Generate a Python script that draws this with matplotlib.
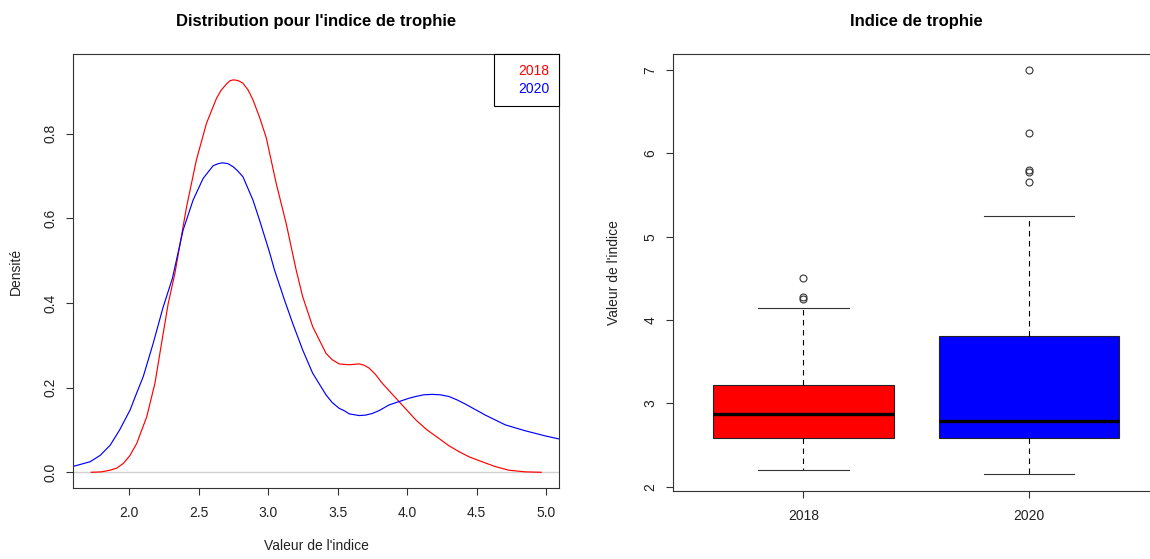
"""Indice de trophie 2018 vs 2020: density curves (left) and boxplots (right),
drawn in the look of R base graphics.

    python plot.py
"""
import matplotlib

matplotlib.use("Agg")
import matplotlib.pyplot as plt
from matplotlib.lines import Line2D

plt.rcParams["font.family"] = ["Liberation Sans", "DejaVu Sans"]

# density estimates
dens_2018_x = [1.725, 1.800, 1.862, 1.910, 1.957, 2.005, 2.053, 2.125, 2.184, 2.232,
               2.280, 2.328, 2.412, 2.483, 2.555, 2.627, 2.660, 2.699, 2.725, 2.751,
               2.785, 2.818, 2.855, 2.890, 2.938, 2.986, 3.057, 3.129, 3.201, 3.248,
               3.320, 3.416, 3.460, 3.511, 3.540, 3.583, 3.655, 3.690, 3.727, 3.770,
               3.822, 3.942, 4.062, 4.140, 4.229, 4.300, 4.372, 4.450, 4.539, 4.630,
               4.731, 4.850, 4.966]
dens_2018_y = [0.000, 0.001, 0.005, 0.010, 0.021, 0.040, 0.068, 0.131, 0.210, 0.305,
               0.399, 0.470, 0.627, 0.738, 0.824, 0.883, 0.902, 0.917, 0.925, 0.927,
               0.925, 0.919, 0.903, 0.880, 0.838, 0.790, 0.683, 0.588, 0.478, 0.415,
               0.344, 0.281, 0.266, 0.256, 0.255, 0.254, 0.256, 0.253, 0.246, 0.232,
               0.210, 0.167, 0.124, 0.101, 0.080, 0.063, 0.049, 0.036, 0.025, 0.014,
               0.005, 0.001, 0.000]

dens_2020_x = [1.575, 1.718, 1.790, 1.862, 1.930, 2.005, 2.050, 2.100, 2.172, 2.244,
               2.310, 2.387, 2.459, 2.531, 2.603, 2.640, 2.670, 2.710, 2.746, 2.780,
               2.818, 2.890, 2.938, 3.009, 3.045, 3.117, 3.176, 3.248, 3.320, 3.416,
               3.460, 3.511, 3.550, 3.583, 3.655, 3.700, 3.750, 3.800, 3.870, 3.942,
               4.014, 4.062, 4.120, 4.181, 4.240, 4.301, 4.360, 4.420, 4.564, 4.707,
               4.851, 4.994, 5.090]
dens_2020_y = [0.012, 0.025, 0.040, 0.064, 0.100, 0.147, 0.185, 0.226, 0.305, 0.391,
               0.458, 0.572, 0.643, 0.694, 0.724, 0.729, 0.731, 0.729, 0.722, 0.712,
               0.698, 0.643, 0.595, 0.520, 0.478, 0.407, 0.352, 0.289, 0.234, 0.183,
               0.165, 0.151, 0.145, 0.138, 0.134, 0.135, 0.139, 0.146, 0.159, 0.167,
               0.175, 0.179, 0.183, 0.184, 0.183, 0.179, 0.171, 0.161, 0.135, 0.112,
               0.098, 0.086, 0.079]

# boxplot summaries
years = ["2018", "2020"]
box_colors = ["#ff0000", "#0000ff"]
box_q1 = [2.588, 2.588]
box_med = [2.868, 2.792]
box_q3 = [3.220, 3.808]
box_lo = [2.200, 2.152]
box_hi = [4.140, 5.252]
box_out = [[4.50, 4.27, 4.25], [7.00, 6.248, 5.80, 5.776, 5.66]]

INK = "#222222"
TICK_LEN = 5.0


def style_axes(ax):
    for s in ax.spines.values():
        s.set_linewidth(0.8)
        s.set_color("#333333")
    ax.tick_params(length=TICK_LEN, width=0.8, color="#333333", labelsize=10, labelcolor=INK)
    ax.tick_params(axis="x", pad=8)
    ax.tick_params(axis="y", pad=6, labelrotation=90)
    for lbl in ax.get_yticklabels():
        lbl.set_va("center")


def density_panel(ax):
    ax.axhline(0, color="#d0d0d0", lw=1.0, zorder=1)
    ax.plot(dens_2018_x, dens_2018_y, color="#ff0000", lw=0.85, zorder=2)
    ax.plot(dens_2020_x, dens_2020_y, color="#0000ff", lw=0.85, zorder=2)
    ax.set_xlim(1.596, 5.094)
    ax.set_ylim(-0.0378, 0.988)
    ax.set_xticks([2.0, 2.5, 3.0, 3.5, 4.0, 4.5, 5.0])
    ax.set_xticklabels([f"{v:.1f}" for v in ax.get_xticks()])
    ax.set_yticks([0.0, 0.2, 0.4, 0.6, 0.8])
    ax.set_yticklabels([f"{v:.1f}" for v in ax.get_yticks()])
    style_axes(ax)
    ax.set_title("Distribution pour l'indice de trophie", fontsize=12, weight="bold", pad=20)
    ax.set_xlabel("Valeur de l'indice", fontsize=10, color=INK)
    ax.set_ylabel("Densité", fontsize=10, color=INK)
    ax.xaxis.set_label_coords(0.5, -0.117)
    ax.yaxis.set_label_coords(-0.104, 0.5)

    handles = [Line2D([], [], color="none") for _ in years]
    leg = ax.legend(handles, years, loc="upper right", borderaxespad=0, fontsize=10,
                    labelcolor=box_colors, fancybox=False, framealpha=1, edgecolor="black",
                    handlelength=0.6, handletextpad=0.4, borderpad=0.7, labelspacing=0.3)
    leg.get_frame().set_linewidth(0.8)


def box_panel(ax):
    stats = []
    for i, yr in enumerate(years):
        stats.append(dict(label=yr, med=box_med[i], q1=box_q1[i], q3=box_q3[i],
                          whislo=box_lo[i], whishi=box_hi[i], fliers=box_out[i]))
    bp = ax.bxp(stats, positions=[1, 2], widths=0.8, capwidths=0.4, patch_artist=True,
                boxprops=dict(edgecolor="#222222", linewidth=0.8),
                medianprops=dict(color="black", linewidth=2.4),
                whiskerprops=dict(color="black", linewidth=0.8, linestyle=(0, (5, 4))),
                capprops=dict(color="#333333", linewidth=0.8),
                flierprops=dict(marker="o", markersize=5, markerfacecolor="none",
                                markeredgecolor="#333333", markeredgewidth=0.8))
    for patch, c in zip(bp["boxes"], box_colors):
        patch.set_facecolor(c)
    ax.set_xlim(0.42, 2.58)
    ax.set_ylim(1.951, 7.192)
    ax.set_xticks([1, 2])
    ax.set_xticklabels(years)
    ax.set_yticks([2, 3, 4, 5, 6, 7])
    style_axes(ax)
    ax.set_title("Indice de trophie", fontsize=12, weight="bold", pad=20)
    ax.set_ylabel("Valeur de l'indice", fontsize=10, color=INK)
    ax.yaxis.set_label_coords(-0.106, 0.5)


def main():
    fig = plt.figure(figsize=(11.5, 5.59), dpi=100)
    ax1 = fig.add_axes([0.0637, 0.1265, 0.4224, 0.7769])
    ax2 = fig.add_axes([0.5850, 0.1222, 0.4233, 0.7812])
    density_panel(ax1)
    box_panel(ax2)
    fig.savefig("out.png", dpi=100)
    plt.close(fig)


if __name__ == "__main__":
    main()
